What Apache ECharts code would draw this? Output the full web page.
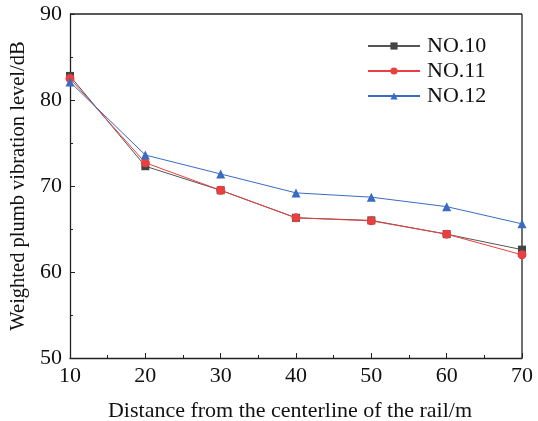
<!DOCTYPE html>
<html><head><meta charset="utf-8">
<script src="https://cdn.jsdelivr.net/npm/echarts@6/dist/echarts.min.js"></script>
<style>html,body{margin:0;padding:0;background:#fff}#c{width:538px;height:421px}</style>
</head><body><div id="c"></div>
<script>
var distances = [10, 20, 30, 40, 50, 60, 70];
var no10 = [82.8, 72.3, 69.5, 66.3, 66.0, 64.4, 62.6];
var no11 = [82.5, 72.7, 69.5, 66.3, 65.95, 64.4, 62.0];
var no12 = [82.1, 73.6, 71.4, 69.2, 68.7, 67.6, 65.6];
var seriesNames = ['NO.10', 'NO.11', 'NO.12'];

function pairs(v){ return distances.map(function(d,i){ return [d, v[i]]; }); }
var font = 'Liberation Serif';
var chart = echarts.init(document.getElementById('c'), null, {renderer:'canvas'});
chart.setOption({
  animation:false,
  backgroundColor:'#fff',
  grid:{left:70, right:16, top:14, bottom:63, containLabel:false, outerBoundsMode:'none'},
  legend:{
    orient:'vertical', left:362, top:30, itemWidth:52, itemHeight:9, itemGap:3,
    textStyle:{fontFamily:font, fontSize:22, color:'#111', padding:[0,0,0,2]},
    data:seriesNames
  },
  xAxis:{
    type:'value', min:10, max:70, interval:10,
    name:'Distance from the centerline of the rail/m', nameLocation:'middle', nameGap:42,
    nameTextStyle:{fontFamily:font, fontSize:22, color:'#111', padding:[0,12,0,0]},
    axisLine:{show:true, onZero:false, lineStyle:{color:'#222', width:1.3}},
    axisTick:{inside:true, length:5, lineStyle:{color:'#222'}},
    minorTick:{show:true, splitNumber:2, length:3, lineStyle:{color:'#222'}},
    axisLabel:{fontFamily:font, fontSize:22, color:'#111', margin:7},
    splitLine:{show:false}
  },
  yAxis:{
    type:'value', min:50, max:90, interval:10,
    name:'Weighted plumb vibration level/dB', nameLocation:'middle', nameGap:34,
    nameTextStyle:{fontFamily:font, fontSize:20.5, color:'#111'},
    axisLine:{show:true, onZero:false, lineStyle:{color:'#222', width:1.3}},
    axisTick:{inside:true, length:5, lineStyle:{color:'#222'}},
    minorTick:{show:true, splitNumber:2, length:3, lineStyle:{color:'#222'}},
    axisLabel:{fontFamily:font, fontSize:22, color:'#111', margin:8},
    splitLine:{show:false}
  },
  series:[
    {name:'NO.10', type:'line', data:pairs(no10), symbol:'rect', symbolSize:8,
     itemStyle:{color:'#444'}, lineStyle:{color:'#555', width:1}},
    {name:'NO.11', type:'line', data:pairs(no11), symbol:'circle', symbolSize:9,
     itemStyle:{color:'#e8403e'}, lineStyle:{color:'#e8403e', width:1}},
    {name:'NO.12', type:'line', data:pairs(no12), symbol:'triangle', symbolSize:9,
     itemStyle:{color:'#3a6bc2'}, lineStyle:{color:'#3a6bc2', width:1}}
  ],
  graphic:[
    {type:'line', silent:true, shape:{x1:70, y1:14, x2:522, y2:14}, style:{stroke:'#222', lineWidth:1.3}},
    {type:'line', silent:true, shape:{x1:522, y1:14, x2:522, y2:358}, style:{stroke:'#222', lineWidth:1.3}}
  ]
});
</script></body></html>
